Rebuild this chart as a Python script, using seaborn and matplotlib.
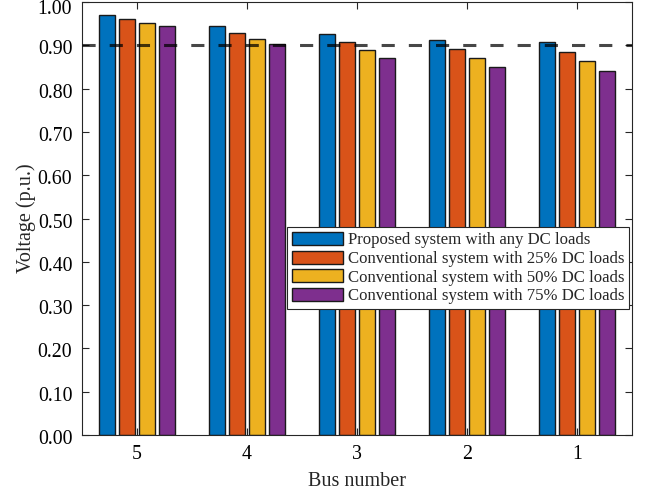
import matplotlib
matplotlib.use("Agg")
import matplotlib.pyplot as plt
import matplotlib.transforms as mtransforms
import seaborn as sns
import pandas as pd
import numpy as np

buses = ["5", "4", "3", "2", "1"]
series_names = [
    "Proposed system with any DC loads",
    "Conventional system with 25% DC loads",
    "Conventional system with 50% DC loads",
    "Conventional system with 75% DC loads",
]
proposed = [0.969, 0.944, 0.925, 0.913, 0.907]
conv_25 = [0.960, 0.929, 0.907, 0.892, 0.884]
conv_50 = [0.952, 0.915, 0.888, 0.871, 0.863]
conv_75 = [0.945, 0.902, 0.871, 0.851, 0.841]
limit_voltage = 0.90
colors = ["#0072BD", "#D95319", "#EDB120", "#7E2F8E"]

rows = []
for name, vals in zip(series_names, [proposed, conv_25, conv_50, conv_75]):
    for b, v in zip(buses, vals):
        rows.append({"Bus": b, "Voltage": v, "System": name})
df = pd.DataFrame(rows)

sns.set_style("ticks")
plt.rcParams["font.family"] = ["Liberation Serif", "DejaVu Serif"]

fig = plt.figure(figsize=(6.46, 4.91), dpi=100)
ax = fig.add_axes([82 / 646, 1 - 435 / 491, 550 / 646, 433 / 491])

sns.barplot(data=df, x="Bus", y="Voltage", hue="System", order=buses,
            hue_order=series_names, palette=colors, width=0.727, gap=0.2,
            edgecolor="#1a1a1a", linewidth=1.0, saturation=1, ax=ax)

# limit line drawn semi-transparent so it darkens where it crosses bars
ax.axhline(limit_voltage, color="black", alpha=0.72, lw=2.2,
           ls=(0, (4.3, 4.6)), zorder=5)

ax.set_xlim(-0.5, 4.5)
ax.set_ylim(0, 1.0)
yticks = np.arange(0, 1.01, 0.1)
ax.set_yticks(yticks)
ax.set_yticklabels([f"{t:.2f}" for t in yticks])
ax.tick_params(direction="in", length=5, width=0.8, labelsize=14.3,
               top=True, right=True, colors="#262626", labelcolor="black",
               pad=7)
for s in ax.spines.values():
    s.set_visible(True)
    s.set_linewidth(0.8)
    s.set_color("#262626")

# nudge y tick labels slightly below their ticks so the top one stays inside
labels = ax.get_yticklabels()
for i, lab in enumerate(labels):
    dy = -2 / 100 if i < len(labels) - 1 else -5 / 100
    lab.set_transform(lab.get_transform() +
                      mtransforms.ScaledTranslation(0, dy, fig.dpi_scale_trans))

ax.set_xlabel("Bus number", fontsize=14.5, labelpad=6)
ax.set_ylabel("Voltage (p.u.)", fontsize=14.5, labelpad=1)

leg = ax.legend(loc="upper left", bbox_to_anchor=(0.373, 0.48), fontsize=12.1,
                frameon=True, fancybox=False, framealpha=1, edgecolor="#262626",
                handlelength=3.0, handleheight=0.8, labelspacing=0.14,
                borderpad=0.3, handletextpad=0.3, borderaxespad=0)
leg.get_frame().set_linewidth(0.8)
for h in leg.legend_handles:
    h.set_edgecolor("#1a1a1a")

fig.savefig("out.png", dpi=100)
